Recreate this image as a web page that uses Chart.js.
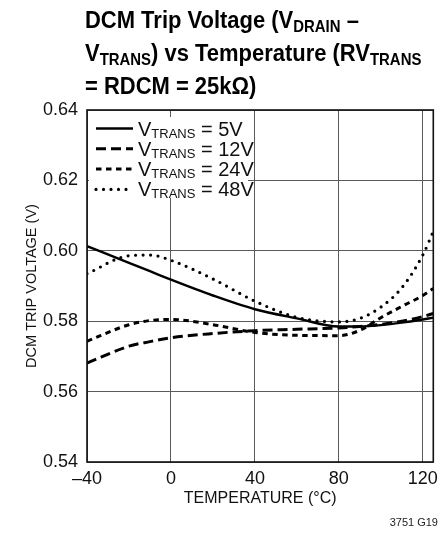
<!DOCTYPE html>
<html lang="en">
<head>
  <meta charset="UTF-8" />
  <title>DCM Trip Voltage vs Temperature</title>
  <script src="https://cdn.jsdelivr.net/npm/chart.js"></script>
  <style>
    body {
      margin: 0;
      padding: 0;
      background: #fff;
      width: 444px;
      height: 533px;
      position: relative;
      overflow: hidden;
    }
    canvas { position: absolute; left: 0; top: 0; }
    .title {
      position: absolute;
      left: 85px;
      top: 5px;
      font-family: "Liberation Sans", Arial, sans-serif;
      font-weight: bold;
      font-size: 23px;
      line-height: 30px;
      color: #000;
      white-space: nowrap;
      transform: scaleX(0.955);
      transform-origin: left top;
    }
    .title .sub {
      font-size: 0.68em;
      position: relative;
      top: 0.28em;
    }
    .code {
      position: absolute;
      right: 6px;
      top: 516px;
      font-family: "Liberation Sans", Arial, sans-serif;
      font-size: 11px;
      line-height: 13px;
      color: #222;
    }
  </style>
</head>
<body>
  <canvas id="chart" width="444" height="533"></canvas>
  <div class="title">DCM Trip Voltage (V<span class="sub">DRAIN</span> –<br/>V<span class="sub">TRANS</span>) vs Temperature (RV<span class="sub">TRANS</span><br/>= RDCM = 25kΩ)</div>
  <div class="code">3751 G19</div>

  <script>
    const FONT = '"Liberation Sans", Arial, sans-serif';

    const temps = [-40, -20, -10, 0, 20, 40, 60, 80, 90, 100, 110, 120, 125];
    const v5  = [0.6013, 0.5966, 0.5942, 0.5918, 0.5873, 0.5834, 0.5808, 0.5785, 0.5785, 0.5789, 0.5796, 0.5805, 0.5810];
    const v12 = [0.5681, 0.5729, 0.5742, 0.5753, 0.5765, 0.5773, 0.5777, 0.5781, 0.5785, 0.5791, 0.5800, 0.5813, 0.5822];
    const v24 = [0.5743, 0.5790, 0.5802, 0.5805, 0.5790, 0.5768, 0.5760, 0.5759, 0.5774, 0.5810, 0.5842, 0.5873, 0.5893];
    const v48 = [0.5935, 0.5986, 0.5988, 0.5973, 0.5920, 0.5857, 0.5811, 0.5798, 0.5808, 0.5840, 0.5895, 0.5988, 0.6055];
    const seriesNames = ['5V', '12V', '24V', '48V'];

    const xTicks = [-40, 0, 40, 80, 120];
    const yTicks = [0.54, 0.56, 0.58, 0.60, 0.62, 0.64];

    function pts(vals) {
      return temps.map((t, i) => ({ x: t, y: vals[i] }));
    }

    const lineStyles = [
      { borderWidth: 2.4, borderDash: [], borderCapStyle: 'butt' },
      { borderWidth: 3, borderDash: [10, 5], borderCapStyle: 'butt' },
      { borderWidth: 3, borderDash: [5.5, 4.5], borderCapStyle: 'butt' },
      { borderWidth: 3.2, borderDash: [0, 7.5], borderCapStyle: 'round' }
    ];

    const datasets = [v5, v12, v24, v48].map((vals, i) => Object.assign({
      label: 'VTRANS = ' + seriesNames[i],
      data: pts(vals),
      borderColor: '#000',
      pointRadius: 0,
      fill: false,
      cubicInterpolationMode: 'monotone'
    }, lineStyles[i]));

    // legend box sits inside the plot, white background over the grid
    const boxLegend = {
      id: 'boxLegend',
      afterDatasetsDraw(chart) {
        const ctx = chart.ctx;
        ctx.save();
        ctx.fillStyle = '#fff';
        ctx.fillRect(89, 117, 159, 81);
        chart.data.datasets.forEach((ds, i) => {
          const y = 128.5 + i * 20.3;
          ctx.beginPath();
          ctx.setLineDash(ds.borderDash);
          ctx.lineCap = ds.borderCapStyle;
          ctx.lineWidth = ds.borderWidth;
          ctx.strokeStyle = ds.borderColor;
          ctx.moveTo(96, y);
          ctx.lineTo(133, y);
          ctx.stroke();
          ctx.setLineDash([]);

          let x = 138;
          ctx.fillStyle = '#111';
          ctx.textBaseline = 'alphabetic';
          ctx.textAlign = 'left';
          ctx.font = '20px ' + FONT;
          ctx.fillText('V', x, y + 7);
          x += ctx.measureText('V').width;
          ctx.font = '13px ' + FONT;
          ctx.fillText('TRANS', x, y + 9);
          x += ctx.measureText('TRANS').width;
          ctx.font = '20px ' + FONT;
          ctx.fillText(' = ' + seriesNames[i], x, y + 7);
        });
        ctx.restore();
      }
    };

    const frame = {
      id: 'frame',
      afterDraw(chart) {
        const a = chart.chartArea;
        const ctx = chart.ctx;
        ctx.save();
        ctx.strokeStyle = '#111';
        ctx.lineWidth = 1.6;
        ctx.strokeRect(a.left, a.top, a.right - a.left, a.bottom - a.top);
        ctx.restore();
      }
    };

    new Chart(document.getElementById('chart'), {
      type: 'line',
      data: { datasets: datasets },
      options: {
        responsive: false,
        animation: false,
        devicePixelRatio: 1,
        layout: { padding: { top: 110, right: 6, left: 0, bottom: 0 } },
        plugins: { legend: { display: false }, tooltip: { enabled: false } },
        scales: {
          x: {
            type: 'linear',
            min: -40,
            max: 125,
            afterBuildTicks: s => { s.ticks = xTicks.map(v => ({ value: v })); },
            afterFit: s => { s.height = 71; },
            grid: { color: '#5a5a5a', lineWidth: 1, drawTicks: false },
            border: { display: false },
            ticks: {
              padding: 6,
              color: '#111',
              font: { family: FONT, size: 18 },
              callback: v => v < 0 ? '–' + Math.abs(v) : String(v)
            },
            title: {
              display: true,
              text: 'TEMPERATURE (°C)',
              color: '#111',
              font: { family: FONT, size: 16 },
              padding: { top: 0, bottom: 25 }
            }
          },
          y: {
            min: 0.54,
            max: 0.64,
            afterBuildTicks: s => { s.ticks = yTicks.map(v => ({ value: v })); },
            afterFit: s => { s.width = 87; },
            grid: { color: '#5a5a5a', lineWidth: 1, drawTicks: false },
            border: { display: false },
            ticks: {
              padding: 9,
              color: '#111',
              font: { family: FONT, size: 18 },
              callback: v => v.toFixed(2)
            },
            title: {
              display: true,
              text: 'DCM TRIP VOLTAGE (V)',
              color: '#111',
              font: { family: FONT, size: 14.5 },
              padding: { top: 23, bottom: 0 }
            }
          }
        }
      },
      plugins: [boxLegend, frame]
    });
  </script>
</body>
</html>
